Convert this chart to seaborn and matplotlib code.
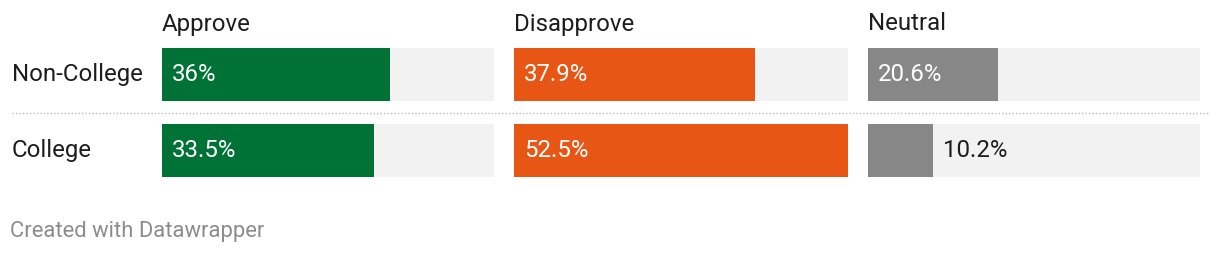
import matplotlib
matplotlib.use("Agg")
import matplotlib.pyplot as plt
from matplotlib.lines import Line2D
import seaborn as sns
import pandas as pd

groups = ["Non-College", "College"]
categories = ["Approve", "Disapprove", "Neutral"]
approve = [36.0, 33.5]
disapprove = [37.9, 52.5]
neutral = [20.6, 10.2]
labels_approve = ["36%", "33.5%"]
labels_disapprove = ["37.9%", "52.5%"]
labels_neutral = ["20.6%", "10.2%"]

colors = ["#007236", "#e85615", "#878787"]
series = [approve, disapprove, neutral]
labels = [labels_approve, labels_disapprove, labels_neutral]
scale_max = max(max(s) for s in series)

sns.set_theme(style="white")
plt.rcParams["font.family"] = ["Roboto", "DejaVu Sans"]

W, H = 1220, 254
fig = plt.figure(figsize=(W / 100, H / 100), dpi=100)
fig.patch.set_facecolor("white")

FS = 17.3
panel_x = [162, 514, 868]
panel_w = [332, 334, 332]
bar_px = 53
step_px = 76
top_px = 48
half = bar_px / 2 / step_px
ax_h_px = step_px * (1 + 2 * half)

for i, cat in enumerate(categories):
    left = panel_x[i] / W
    bottom = (H - (top_px + ax_h_px)) / H
    ax = fig.add_axes([left, bottom, panel_w[i] / W, ax_h_px / H])
    df = pd.DataFrame({"group": groups, "value": series[i],
                       "full": [scale_max] * len(groups)})
    sns.barplot(data=df, y="group", x="full", color="#f2f2f2", ax=ax,
                orient="h", width=bar_px / step_px, saturation=1, linewidth=0)
    sns.barplot(data=df, y="group", x="value", color=colors[i], ax=ax,
                orient="h", width=bar_px / step_px, saturation=1, linewidth=0)
    ax.set_xlim(0, scale_max)
    ax.set_ylim(1 + half, -half)
    ax.axis("off")
    px_per_unit = panel_w[i] / scale_max
    for j, v in enumerate(series[i]):
        bar_w_px = v * px_per_unit
        if bar_w_px > 90:
            ax.text(10 / px_per_unit, j, labels[i][j], color="white",
                    fontsize=FS, va="center", ha="left")
        else:
            ax.text(v + 10 / px_per_unit, j, labels[i][j], color="#1d1d1d",
                    fontsize=FS, va="center", ha="left")
    fig.text(panel_x[i] / W, 1 - 24 / H, cat, fontsize=FS, color="#1d1d1d",
             va="center", ha="left")

row_y = [74.5, 150.5]
for g, y in zip(groups, row_y):
    fig.text(12 / W, 1 - y / H, g, fontsize=FS, color="#1d1d1d",
             va="center", ha="left")

fig.add_artist(Line2D([12 / W, 1208 / W], [1 - 113 / H, 1 - 113 / H],
                      transform=fig.transFigure, color="#bbbbbb",
                      linestyle=(0, (1, 1.5)), linewidth=1))

fig.text(10 / W, 1 - 231.5 / H, "Created with Datawrapper", fontsize=15.8,
         color="#8c8c8c", va="center", ha="left")

fig.savefig("out.png", dpi=100, facecolor="white")
